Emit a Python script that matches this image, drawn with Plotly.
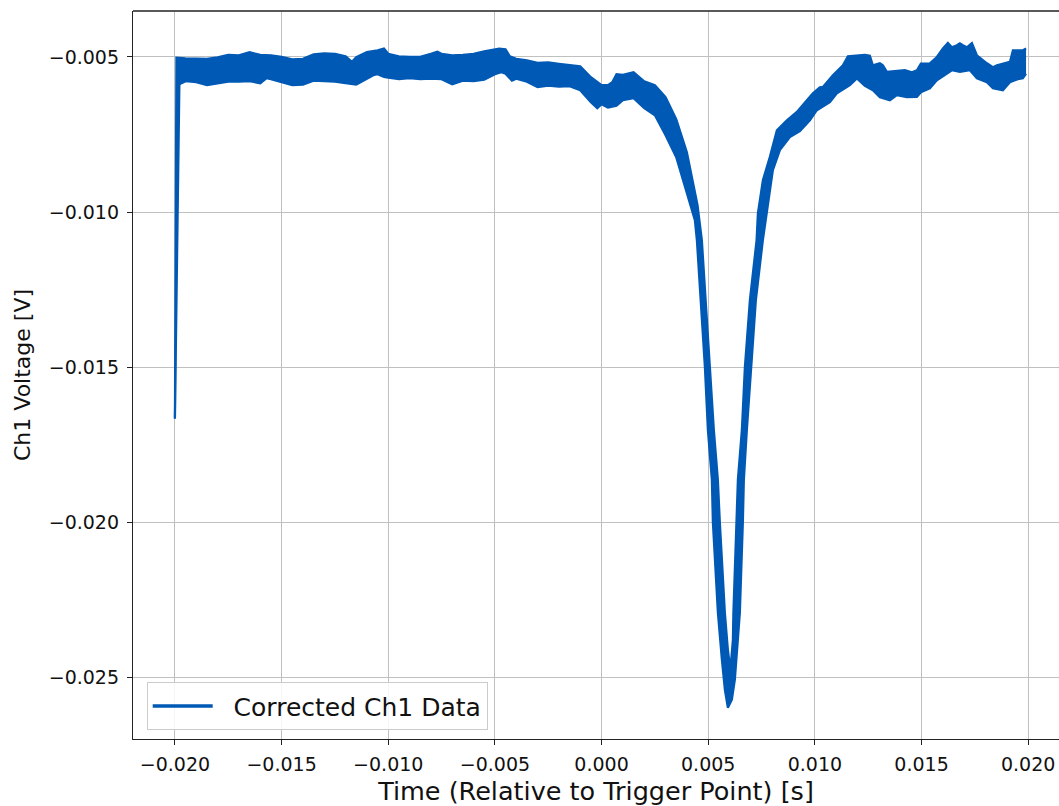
import plotly.graph_objects as go

# Upper edge of the (noisy) Ch1 trace band
upper_t = [-0.02000, -0.01993, -0.0195, -0.0190, -0.0185, -0.0180, -0.0175, -0.0170, -0.0165, -0.0160,
           -0.0155, -0.0150, -0.0145, -0.0140, -0.0135, -0.0130, -0.0125, -0.0120, -0.0117, -0.0115,
           -0.0110, -0.0105, -0.0102, -0.0100, -0.0095, -0.0090, -0.0085, -0.0080, -0.0077, -0.0075,
           -0.0070, -0.0065, -0.0060, -0.0055, -0.0050, -0.0048, -0.0045, -0.0043, -0.0040, -0.0035,
           -0.0030, -0.0025, -0.0020, -0.0015, -0.0010, -0.0005, 0.0000, 0.0003, 0.0005, 0.0007,
           0.0010, 0.0015, 0.0020, 0.0025, 0.0030, 0.0035, 0.0040, 0.0045, 0.004702, 0.005078,
           0.005265, 0.005453, 0.005546, 0.005781, 0.005922, 0.006038, 0.006156, 0.006179, 0.006343, 0.006390,
           0.006577, 0.006718, 0.006953, 0.007267, 0.007328, 0.007562, 0.007890, 0.008218, 0.008687, 0.009156,
           0.009625, 0.009906, 0.010234, 0.010375, 0.010844, 0.011313, 0.011547, 0.011969, 0.012344, 0.012578,
           0.012719, 0.013047, 0.013188, 0.013376, 0.013844, 0.014219, 0.014547, 0.014782, 0.014969, 0.015391,
           0.015719, 0.016000, 0.016235, 0.016423, 0.016657, 0.016798, 0.016939, 0.017126, 0.017361, 0.017595,
           0.018064, 0.018345, 0.018533, 0.018908, 0.019142, 0.019283, 0.019517, 0.019751, 0.019900]
upper_v = [-0.01665, -0.005026, -0.005042, -0.005052, -0.005058, -0.005010, -0.004929, -0.004945, -0.004849, -0.004929,
           -0.004945, -0.005000, -0.005074, -0.005058, -0.004913, -0.004881, -0.004897, -0.004977, -0.005155, -0.005010,
           -0.004839, -0.004784, -0.004729, -0.004897, -0.004977, -0.004994, -0.004994, -0.004897, -0.004833, -0.004897,
           -0.004945, -0.004929, -0.004897, -0.004816, -0.004768, -0.004729, -0.004752, -0.004977, -0.005058, -0.005106,
           -0.005187, -0.005171, -0.005219, -0.005251, -0.005300, -0.005654, -0.005911, -0.005911, -0.005815, -0.005557,
           -0.005573, -0.005493, -0.005783, -0.005911, -0.006298, -0.007006, -0.008069, -0.009776, -0.010903, -0.014993,
           -0.017023, -0.018633, -0.020008, -0.022916, -0.024107, -0.024751, -0.023786, -0.022916, -0.020008, -0.018633,
           -0.017023, -0.014993, -0.012836, -0.010903, -0.010044, -0.008971, -0.008221, -0.007361, -0.007039, -0.006771,
           -0.006394, -0.006169, -0.005976, -0.005966, -0.005589, -0.005267, -0.004977, -0.004945, -0.004929, -0.004961,
           -0.005267, -0.005203, -0.005267, -0.005483, -0.005461, -0.005428, -0.005493, -0.005428, -0.005213, -0.005203,
           -0.005000, -0.004729, -0.004549, -0.004688, -0.004623, -0.004559, -0.004623, -0.004688, -0.004549, -0.004945,
           -0.005203, -0.005332, -0.005267, -0.005203, -0.005161, -0.004784, -0.004784, -0.004784, -0.004729]

# Lower edge of the band
lower_t = [-0.02000, -0.01979, -0.0195, -0.0190, -0.0185, -0.0180, -0.0175, -0.0170, -0.0165, -0.0160,
           -0.0157, -0.0155, -0.0150, -0.0145, -0.0140, -0.0135, -0.0130, -0.0125, -0.0120, -0.0115,
           -0.0110, -0.0107, -0.0105, -0.0102, -0.0100, -0.0095, -0.0090, -0.0085, -0.0080, -0.0075,
           -0.0070, -0.0065, -0.0060, -0.0055, -0.0050, -0.0047, -0.0045, -0.0042, -0.0040, -0.0035,
           -0.0030, -0.0025, -0.0020, -0.0015, -0.0010, -0.0005, -0.0002, 0.0000, 0.0003, 0.0007,
           0.0010, 0.0015, 0.0020, 0.0025, 0.0030, 0.0035, 0.0040, 0.004374, 0.004468, 0.004655,
           0.004843, 0.004984, 0.005171, 0.005218, 0.005453, 0.005640, 0.005781, 0.005922, 0.006109, 0.006249,
           0.006484, 0.006624, 0.006671, 0.006812, 0.007000, 0.007234, 0.007562, 0.007750, 0.008031, 0.008359,
           0.008828, 0.009297, 0.009766, 0.010094, 0.010703, 0.011032, 0.011641, 0.011969, 0.012344, 0.012719,
           0.013047, 0.013516, 0.013844, 0.014313, 0.014782, 0.014969, 0.015391, 0.015719, 0.016188, 0.016423,
           0.016798, 0.017267, 0.017595, 0.018064, 0.018345, 0.018814, 0.019142, 0.019517, 0.019751, 0.019900]
lower_v = [-0.01665, -0.005879, -0.005783, -0.005815, -0.005911, -0.005847, -0.005799, -0.005799, -0.005783, -0.005847,
           -0.005686, -0.005718, -0.005815, -0.005911, -0.005895, -0.005767, -0.005783, -0.005799, -0.005847, -0.005895,
           -0.005702, -0.005589, -0.005557, -0.005644, -0.005670, -0.005718, -0.005686, -0.005718, -0.005702, -0.005718,
           -0.005879, -0.005767, -0.005783, -0.005734, -0.005557, -0.005493, -0.005541, -0.005767, -0.005702, -0.005799,
           -0.005976, -0.005928, -0.005960, -0.005944, -0.006072, -0.006459, -0.006652, -0.006523, -0.006636, -0.006572,
           -0.006394, -0.006330, -0.006652, -0.006878, -0.007522, -0.008230, -0.009390, -0.010259, -0.010903, -0.012836,
           -0.014993, -0.017023, -0.018633, -0.020008, -0.022916, -0.024430, -0.025396, -0.025976, -0.025718, -0.025074,
           -0.022916, -0.020008, -0.018633, -0.017023, -0.014993, -0.012836, -0.010903, -0.009937, -0.008649, -0.008005,
           -0.007586, -0.007393, -0.007039, -0.006717, -0.006459, -0.006169, -0.005911, -0.005696, -0.005933, -0.006072,
           -0.006298, -0.006394, -0.006233, -0.006298, -0.006288, -0.006137, -0.006008, -0.005750, -0.005525, -0.005428,
           -0.005483, -0.005428, -0.005686, -0.005815, -0.006008, -0.006072, -0.005815, -0.005718, -0.005686, -0.005535]

x_ticks = [-0.020, -0.015, -0.010, -0.005, 0.000, 0.005, 0.010, 0.015, 0.020]
y_ticks = [-0.025, -0.020, -0.015, -0.010, -0.005]
series_name = "Corrected Ch1 Data"

BLUE = "#0059B5"
FONT = "DejaVu Sans"
TXT = "#111111"

fig = go.Figure()
fig.add_trace(go.Scatter(x=upper_t, y=upper_v, mode="lines",
                         line=dict(color=BLUE, width=2.2), showlegend=False, hoverinfo="skip"))
fig.add_trace(go.Scatter(x=lower_t, y=lower_v, mode="lines", fill="tonexty", fillcolor=BLUE,
                         line=dict(color=BLUE, width=2.2), showlegend=False, hoverinfo="skip"))
fig.add_trace(go.Scatter(x=[None], y=[None], mode="lines",
                         name="\u00a0\u00a0" + series_name,
                         line=dict(color=BLUE, width=3.5)))

axis_common = dict(showgrid=True, gridcolor="#c0c0c0", gridwidth=1.3, zeroline=False,
                   showline=True, linecolor="#222222", linewidth=1.3, mirror=False,
                   ticks="outside", ticklen=5, tickwidth=1.3, tickcolor="#222222",
                   tickfont=dict(family=FONT, size=19, color=TXT),
                   tickformat=".3f")

fig.update_layout(
    width=1059, height=806,
    margin=dict(l=133, r=0, t=11, b=67),
    paper_bgcolor="white", plot_bgcolor="white",
    font=dict(family=FONT, color=TXT),
    xaxis=dict(range=[-0.021965, 0.021444], tickvals=x_ticks, ticklabelstandoff=3,
               title=dict(text="Time (Relative to Trigger Point) [s]",
                          font=dict(family=FONT, size=25.5, color=TXT), standoff=9),
               **axis_common),
    yaxis=dict(range=[-0.026984, -0.003519], tickvals=y_ticks, ticklabelstandoff=4,
               title=dict(text="Ch1 Voltage [V]",
                          font=dict(family=FONT, size=22, color=TXT), standoff=12),
               **axis_common),
    legend=dict(x=0.0148, y=0.078, xanchor="left", yanchor="top",
                bgcolor="rgba(255,255,255,0.85)", bordercolor="#cccccc", borderwidth=1,
                font=dict(family=FONT, size=25, color=TXT), itemwidth=60),
    shapes=[dict(type="line", xref="paper", yref="paper", x0=0, x1=1, y0=1, y1=1,
                 line=dict(color="#222222", width=1.3))],
)

fig.write_html("out.html")
